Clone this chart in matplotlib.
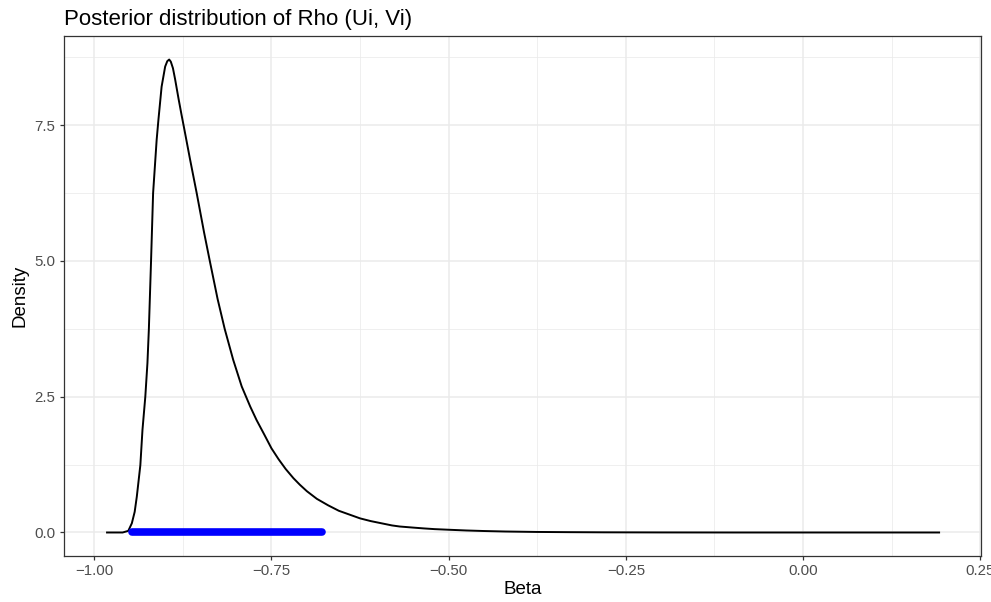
import numpy as np
import matplotlib.pyplot as plt
from matplotlib.ticker import MultipleLocator

plt.rcParams['font.family'] = ['Liberation Sans', 'DejaVu Sans']

# density curve
beta = [-0.982, -0.960, -0.952, -0.947, -0.943, -0.940, -0.935, -0.932, -0.928,
        -0.925, -0.923, -0.920, -0.917, -0.912, -0.9095, -0.905, -0.900, -0.897,
        -0.8943, -0.892, -0.889, -0.886, -0.881, -0.877, -0.873, -0.865, -0.8555,
        -0.845, -0.837, -0.826, -0.816, -0.804, -0.792, -0.780, -0.771, -0.760,
        -0.750, -0.740, -0.730, -0.719, -0.710, -0.700, -0.686, -0.670, -0.655,
        -0.640, -0.625, -0.610, -0.595, -0.580, -0.569, -0.550, -0.535, -0.520,
        -0.499, -0.475, -0.450, -0.420, -0.376, -0.330, -0.280, -0.200, -0.100,
        0.000, 0.100, 0.192]
density = [0.0, 0.0, 0.03, 0.17, 0.38, 0.66, 1.24, 1.89, 2.50,
           3.12, 3.74, 4.96, 6.25, 7.23, 7.60, 8.21, 8.58, 8.68,
           8.71, 8.67, 8.55, 8.35, 7.98, 7.70, 7.43, 6.88, 6.25,
           5.52, 5.00, 4.30, 3.75, 3.18, 2.69, 2.32, 2.07, 1.80,
           1.55, 1.35, 1.17, 1.00, 0.88, 0.76, 0.62, 0.50, 0.40,
           0.33, 0.26, 0.21, 0.17, 0.13, 0.11, 0.09, 0.075, 0.062,
           0.05, 0.037, 0.027, 0.018, 0.01, 0.006, 0.003, 0.001, 0.0,
           0.0, 0.0, 0.0]

# credible interval shown as blue bar on the x axis
ci_low, ci_high = -0.947, -0.678

fig = plt.figure(figsize=(9.91, 6.02), dpi=100)
ax = fig.add_axes([64.3/991, 1-556/602, (980.7-64.3)/991, (556-35.7)/602])

ax.plot(beta, density, color='black', lw=1.4, zorder=3)
ax.plot([ci_low, ci_high], [0, 0], color='blue', lw=5.5, solid_capstyle='round', zorder=4)

ax.set_xlim(-1.0423, 0.2507)
ax.set_ylim(-0.433, 9.149)
ax.xaxis.set_minor_locator(MultipleLocator(0.125))
ax.yaxis.set_minor_locator(MultipleLocator(1.25))
ax.set_xticks([-1.0, -0.75, -0.5, -0.25, 0.0, 0.25])
ax.set_xticklabels(['\u22121.00', '\u22120.75', '\u22120.50', '\u22120.25', '0.00', '0.25'])
ax.set_yticks([0, 2.5, 5, 7.5])
ax.set_yticklabels(['0.0', '2.5', '5.0', '7.5'])

ax.grid(True, which='major', color='#EBEBEB', lw=1.1, zorder=0)
ax.grid(True, which='minor', color='#EBEBEB', lw=0.55, zorder=0)
ax.set_axisbelow(True)
for s in ax.spines.values():
    s.set_color('#333333')
    s.set_linewidth(0.9)
ax.tick_params(which='major', length=2.9, width=0.9, color='#333333',
               labelcolor='#4D4D4D', labelsize=10.8)
ax.tick_params(axis='x', pad=3)
ax.tick_params(axis='y', pad=3.5)
ax.tick_params(which='minor', length=0)

ax.set_xlabel('Beta', fontsize=13.5, labelpad=2)
ax.set_ylabel('Density', fontsize=13.5, labelpad=4)
ax.set_title('Posterior distribution of Rho (Ui, Vi)', loc='left', fontsize=16, pad=7.5)

fig.savefig('out.png', dpi=100)
